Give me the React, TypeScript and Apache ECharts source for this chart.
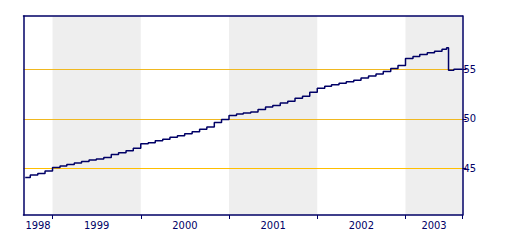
import React, { useEffect, useRef } from "react";
import * as echarts from "echarts";

// Dates of each step and the level held from that date on
const dates: string[] = [
  "1998-09-10", "1998-10-01", "1998-11-01", "1998-12-01",
  "1999-01-01", "1999-02-01", "1999-03-01", "1999-04-01", "1999-05-01", "1999-06-01",
  "1999-07-01", "1999-08-01", "1999-09-01", "1999-10-01", "1999-11-01", "1999-12-01",
  "2000-01-01", "2000-02-01", "2000-03-01", "2000-04-01", "2000-05-01", "2000-06-01",
  "2000-07-01", "2000-08-01", "2000-09-01", "2000-10-01", "2000-11-01", "2000-12-01",
  "2001-01-01", "2001-02-01", "2001-03-01", "2001-04-01", "2001-05-01", "2001-06-01",
  "2001-07-01", "2001-08-01", "2001-09-01", "2001-10-01", "2001-11-01", "2001-12-01",
  "2002-01-01", "2002-02-01", "2002-03-01", "2002-04-01", "2002-05-01", "2002-06-01",
  "2002-07-01", "2002-08-01", "2002-09-01", "2002-10-01", "2002-11-01", "2002-12-01",
  "2003-01-01", "2003-02-01", "2003-03-01", "2003-04-01", "2003-05-01", "2003-06-01",
  "2003-06-20", "2003-06-28", "2003-07-20", "2003-08-24",
];
const values: number[] = [
  44.1, 44.35, 44.5, 44.75,
  45.1, 45.25, 45.4, 45.55, 45.7, 45.85,
  45.95, 46.1, 46.4, 46.6, 46.8, 47.05,
  47.5, 47.6, 47.8, 47.95, 48.15, 48.3,
  48.5, 48.7, 48.95, 49.2, 49.65, 49.95,
  50.35, 50.5, 50.6, 50.7, 50.95, 51.2,
  51.35, 51.6, 51.8, 52.1, 52.3, 52.7,
  53.1, 53.3, 53.45, 53.6, 53.75, 53.9,
  54.15, 54.35, 54.55, 54.8, 55.1, 55.4,
  56.1, 56.3, 56.5, 56.7, 56.85, 57.05,
  57.2, 54.93, 55.03, 55.03,
];

const yearLabels: string[] = ["1998", "1999", "2000", "2001", "2002", "2003"];
const yearBoundaries: number[] = [1999, 2000, 2001, 2002, 2003];
const shadedYears: number[] = [1999, 2001, 2003];
const yTicks: number[] = [45, 50, 55];
const referenceLevel = 45;

const xMin = 1998.671;
const xMax = 2003.646;
const yMin = 40.3;
const yMax = 60.4;

const NAVY = "#000066";

function toYear(s: string): number {
  const [y, m, d] = s.split("-").map(Number);
  const start = Date.UTC(y, 0, 1);
  const end = Date.UTC(y + 1, 0, 1);
  return y + (Date.UTC(y, m - 1, d) - start) / (end - start);
}

export default function App() {
  const ref = useRef<HTMLDivElement>(null);
  useEffect(() => {
    if (!ref.current) return;
    const chart = echarts.init(ref.current, undefined, { renderer: "svg" });
    const labelPos = yearLabels.map((l) => {
      const y = Number(l);
      const a = Math.max(y, xMin);
      const b = Math.min(y + 1, xMax);
      return (a + b) / 2;
    });
    const labelMap = new Map<string, string>();
    labelPos.forEach((p, i) => labelMap.set(p.toFixed(4), yearLabels[i]));
    const font = "'DejaVu Sans Condensed', 'DejaVu Sans', sans-serif";
    const frameAxis = {
      min: 0,
      max: 1,
      type: "value",
      z: 20,
      axisLine: { show: true, onZero: false, lineStyle: { color: NAVY, width: 1.5 } },
      axisTick: { show: false },
      axisLabel: { show: false },
      splitLine: { show: false },
    };
    chart.setOption({
      animation: false,
      backgroundColor: "#ffffff",
      grid: {
        left: 23.5,
        right: 57.5,
        top: 16,
        bottom: 25,
        show: false,
      },
      xAxis: [
        {
          type: "value",
          min: xMin,
          max: xMax,
          z: 20,
          axisLine: { show: true, onZero: false, lineStyle: { color: NAVY, width: 1.5 } },
          axisTick: {
            show: true,
            length: 4,
            lineStyle: { color: NAVY, width: 1 },
            customValues: [...yearBoundaries, xMax],
          },
          axisLabel: {
            show: true,
            customValues: labelPos,
            formatter: (v: number) => labelMap.get(v.toFixed(4)) ?? "",
            color: NAVY,
            fontFamily: font,
            fontSize: 11,
            margin: 5,
          },
          splitLine: { show: false },
        },
        { ...frameAxis, position: "top" },
      ],
      yAxis: [
        {
          type: "value",
          position: "right",
          min: yMin,
          max: yMax,
          z: 20,
          axisLine: { show: true, onZero: false, lineStyle: { color: NAVY, width: 1.5 } },
          axisTick: {
            show: true,
            length: 4,
            lineStyle: { color: NAVY, width: 1 },
            customValues: yTicks,
          },
          axisLabel: {
            show: true,
            customValues: yTicks,
            color: NAVY,
            fontFamily: font,
            fontSize: 11,
            margin: 1,
          },
          splitLine: { show: false },
        },
        { ...frameAxis, position: "left" },
      ],
      series: [
        {
          type: "line",
          step: "end",
          symbol: "none",
          xAxisIndex: 0,
          yAxisIndex: 0,
          data: dates.map((d, i) => [toYear(d), values[i]]),
          lineStyle: { color: NAVY, width: 1.5 },
          z: 5,
          markArea: {
            silent: true,
            itemStyle: { color: "#eeeeee" },
            data: shadedYears.map((y) => [{ xAxis: y }, { xAxis: Math.min(y + 1, xMax) }]),
          },
          markLine: {
            silent: true,
            symbol: "none",
            label: { show: false },
            data: yTicks.map((t) => ({
              yAxis: t,
              lineStyle: {
                color: t === referenceLevel ? "#ffbf00" : "#f0b820",
                width: 1,
                type: "solid",
              },
            })),
          },
        },
      ],
    });
    return () => chart.dispose();
  }, []);
  return (
    <div
      ref={ref}
      style={{ position: "fixed", left: 0, top: 0, width: 520, height: 240, background: "#fff" }}
    />
  );
}
